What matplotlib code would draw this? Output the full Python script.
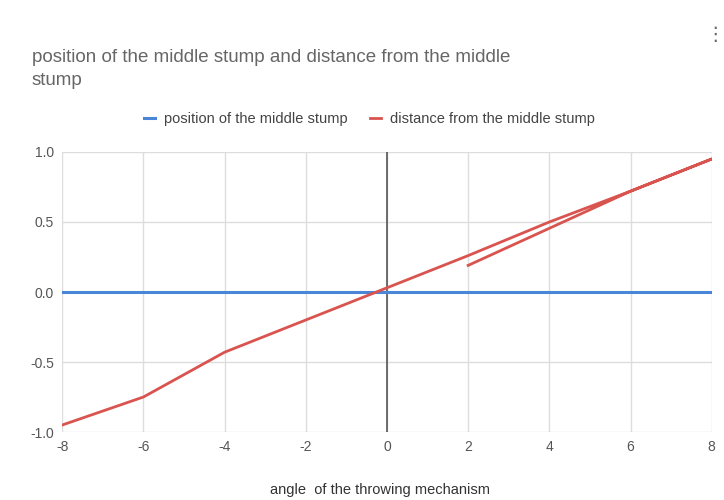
import matplotlib.pyplot as plt

plt.rcParams['font.family'] = ['Liberation Sans', 'DejaVu Sans']

# angle of the throwing mechanism vs. values
stump_x = [-8, 8]
stump_y = [0.0, 0.0]
dist_x = [-8, -6, -4, -2, 0, 2, 4, 6, 8, 6, 2]
dist_y = [-0.95, -0.75, -0.43, -0.2, 0.03, 0.26, 0.5, 0.72, 0.95, 0.72, 0.19]

x_ticks = [-8, -6, -4, -2, 0, 2, 4, 6, 8]
y_ticks = [-1.0, -0.5, 0.0, 0.5, 1.0]

fig = plt.figure(figsize=(7.24, 5.0), dpi=100)
ax = fig.add_axes([0.086, 0.136, 0.897, 0.56])

ax.plot(stump_x, stump_y, color="#4a86d8", lw=2.2, label="position of the middle stump", zorder=3)
ax.plot(dist_x, dist_y, color="#d9534f", lw=2.0, label="distance from the middle stump", zorder=4)
ax.axvline(0, color="#555555", lw=1.2, zorder=2)

ax.set_xlim(-8, 8)
ax.set_ylim(-1.0, 1.0)
ax.set_xticks(x_ticks)
ax.set_yticks(y_ticks)
ax.set_xticklabels([str(t) for t in x_ticks])
ax.set_yticklabels(["%.1f" % t for t in y_ticks])
ax.grid(color="#dddddd", lw=1)
ax.set_axisbelow(True)
for s in ax.spines.values():
    s.set_visible(False)
ax.tick_params(length=0, labelsize=10, colors="#555555", pad=6)

fig.text(0.525, 0.012, "angle  of the throwing mechanism", fontsize=10.5, color="#333333",
         ha="center", va="baseline")

fig.text(0.044, 0.876, "position of the middle stump and distance from the middle",
         fontsize=13.5, color="#666666", va="baseline", ha="left")
fig.text(0.044, 0.83, "stump", fontsize=13.5, color="#666666", va="baseline", ha="left")
fig.text(0.988, 0.93, "\u22ee", fontsize=14, color="#666666", ha="center", va="center",
         family=['DejaVu Sans'])

fig.legend(loc="center", bbox_to_anchor=(0.51, 0.763), ncol=2, frameon=False,
           fontsize=10.5, handlelength=0.8, handleheight=0.3, columnspacing=1.5,
           handletextpad=0.6, labelcolor="#444444")

fig.savefig("out.png", dpi=100)
